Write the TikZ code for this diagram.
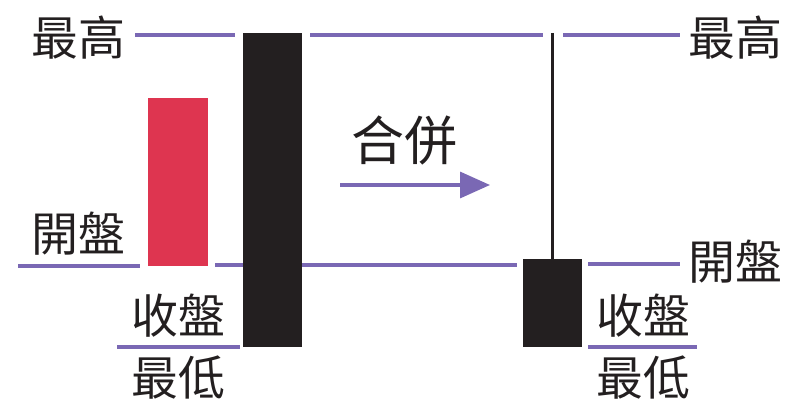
\documentclass[tikz,border=0pt]{standalone}
\usepackage{fontspec}
\newfontfamily\cjk{Noto Sans CJK TC}
\usetikzlibrary{arrows.meta}
\definecolor{lvl}{HTML}{7A68B4}
\definecolor{bull}{HTML}{DE3550}
\definecolor{bear}{HTML}{231F20}
\tikzset{
  lbl/.style={font=\cjk\fontsize{47}{47}\selectfont, text=bear, inner sep=0pt},
  lvlline/.style={draw=lvl, line width=3.2pt},
  candle/.style={draw=none, fill=bear},
}
\begin{document}
\begin{tikzpicture}[x=1pt,y=-1pt]
\useasboundingbox (0,0) rectangle (788,406);
% candles
\fill[bull] (148,98) rectangle (208,266);
\node[candle, minimum width=59pt, minimum height=314pt, inner sep=0pt] (big) at (272.5,190) {};
\node[candle, minimum width=59pt, minimum height=88pt, inner sep=0pt] (small) at (552.5,303) {};
\coordinate (wtop) at (552,33);
\draw[bear, line width=3pt] (wtop) -- (small.north -| wtop);
% labels
\node[lbl] (hiL) at (78,38) {最高};
\node[lbl] (opL) at (78,234) {開盤};
\node[lbl] (clL) at (178,316) {收盤};
\node[lbl] (loL) at (178,378) {最低};
\node[lbl] (hiR) at (735,38) {最高};
\node[lbl] (opR) at (735,262) {開盤};
\node[lbl] (clR) at (643,316) {收盤};
\node[lbl] (loR) at (643,378) {最低};
\node[lbl, font=\cjk\fontsize{53}{53}\selectfont] (mg) at (404,140) {合併};
% high line
\draw[lvlline] (135,35) -- (235,35);
\draw[lvlline] (310,35) -- (543,35);
\draw[lvlline] (563,35) -- (680,35);
% open line
\draw[lvlline] (18,266) -- (140,266);
\draw[lvlline] (215,265) -- (243,265);
\draw[lvlline] (302,265) -- (517,265);
\draw[lvlline] (588,264) -- (680,264);
% close/low lines
\draw[lvlline] (117,347) -- (240,347);
\draw[lvlline] (588,347) -- (697,347);
% arrow
\coordinate (a0) at (340,185);
\coordinate (a1) at (490,185);
\draw[draw=lvl, line width=3.4pt, -{Triangle[length=30pt,width=26pt]}] (a0) -- (a1);
\end{tikzpicture}
\end{document}
